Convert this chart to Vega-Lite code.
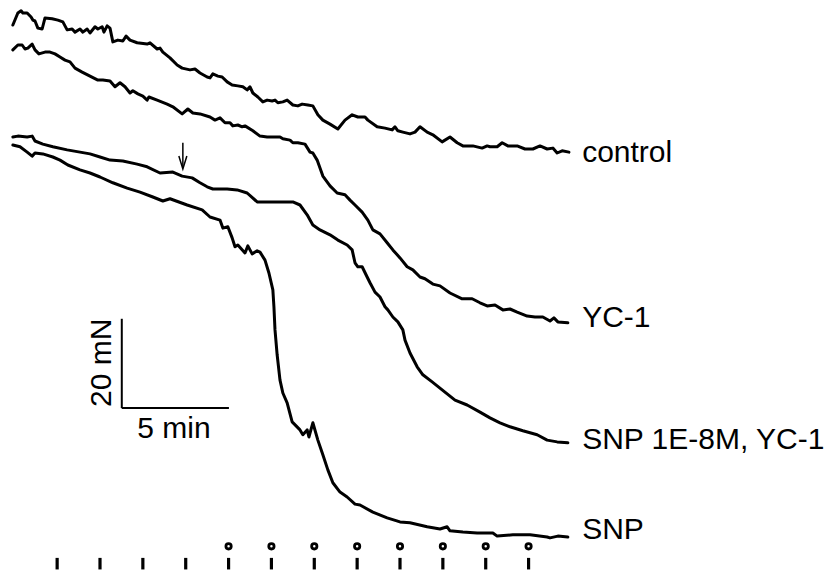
{
  "$schema": "https://vega.github.io/schema/vega-lite/v6.json",
  "width": 826,
  "height": 573,
  "autosize": {"type": "fit", "contains": "padding"},
  "padding": 0,
  "background": "white",
  "config": {"view": {"stroke": null}},
  "datasets": {
    "traces": [
      {"trace":"control","time":36,"tension":123.3},{"trace":"control","time":50,"tension":126.0},{"trace":"control","time":59,"tension":126.5},{"trace":"control","time":64,"tension":126.0},{"trace":"control","time":76,"tension":126.0},{"trace":"control","time":87,"tension":125.1},{"trace":"control","time":92,"tension":124.4},{"trace":"control","time":98,"tension":124.2},{"trace":"control","time":106,"tension":122.6},{"trace":"control","time":118,"tension":122.4},{"trace":"control","time":126,"tension":124.9},{"trace":"control","time":146,"tension":124.7},{"trace":"control","time":162,"tension":124.4},{"trace":"control","time":176,"tension":124.0},{"trace":"control","time":188,"tension":122.2},{"trace":"control","time":202,"tension":122.4},{"trace":"control","time":210,"tension":121.7},{"trace":"control","time":224,"tension":122.4},{"trace":"control","time":232,"tension":121.7},{"trace":"control","time":244,"tension":122.4},{"trace":"control","time":252,"tension":121.5},{"trace":"control","time":266,"tension":122.9},{"trace":"control","time":274,"tension":122.4},{"trace":"control","time":286,"tension":122.9},{"trace":"control","time":291,"tension":121.7},{"trace":"control","time":300,"tension":123.1},{"trace":"control","time":308,"tension":122.6},{"trace":"control","time":316,"tension":119.5},{"trace":"control","time":330,"tension":119.9},{"trace":"control","time":344,"tension":119.7},{"trace":"control","time":353,"tension":120.8},{"trace":"control","time":364,"tension":119.9},{"trace":"control","time":384,"tension":119.3},{"trace":"control","time":412,"tension":119.0},{"trace":"control","time":420,"tension":119.3},{"trace":"control","time":440,"tension":117.9},{"trace":"control","time":448,"tension":118.1},{"trace":"control","time":456,"tension":117.2},{"trace":"control","time":476,"tension":115.9},{"trace":"control","time":496,"tension":114.3},{"trace":"control","time":510,"tension":113.6},{"trace":"control","time":532,"tension":113.2},{"trace":"control","time":546,"tension":113.4},{"trace":"control","time":560,"tension":112.5},{"trace":"control","time":580,"tension":111.6},{"trace":"control","time":588,"tension":111.4},{"trace":"control","time":596,"tension":112.3},{"trace":"control","time":610,"tension":111.8},{"trace":"control","time":622,"tension":111.6},{"trace":"control","time":636,"tension":110.5},{"trace":"control","time":650,"tension":109.8},{"trace":"control","time":666,"tension":109.6},{"trace":"control","time":680,"tension":109.4},{"trace":"control","time":692,"tension":108.7},{"trace":"control","time":700,"tension":109.4},{"trace":"control","time":708,"tension":108.0},{"trace":"control","time":722,"tension":107.1},{"trace":"control","time":736,"tension":106.0},{"trace":"control","time":748,"tension":106.4},{"trace":"control","time":762,"tension":106.2},{"trace":"control","time":770,"tension":106.4},{"trace":"control","time":778,"tension":105.8},{"trace":"control","time":792,"tension":106.0},{"trace":"control","time":804,"tension":106.4},{"trace":"control","time":820,"tension":105.3},{"trace":"control","time":834,"tension":105.1},{"trace":"control","time":846,"tension":105.5},{"trace":"control","time":862,"tension":105.3},{"trace":"control","time":876,"tension":105.1},{"trace":"control","time":890,"tension":103.1},{"trace":"control","time":904,"tension":101.9},{"trace":"control","time":924,"tension":101.0},{"trace":"control","time":946,"tension":99.9},{"trace":"control","time":966,"tension":101.9},{"trace":"control","time":986,"tension":103.1},{"trace":"control","time":1002,"tension":102.6},{"trace":"control","time":1022,"tension":102.6},{"trace":"control","time":1030,"tension":101.9},{"trace":"control","time":1056,"tension":100.4},{"trace":"control","time":1078,"tension":100.1},{"trace":"control","time":1098,"tension":99.7},{"trace":"control","time":1106,"tension":100.4},{"trace":"control","time":1114,"tension":99.5},{"trace":"control","time":1128,"tension":99.2},{"trace":"control","time":1148,"tension":98.8},{"trace":"control","time":1162,"tension":99.2},{"trace":"control","time":1176,"tension":100.4},{"trace":"control","time":1196,"tension":99.2},{"trace":"control","time":1212,"tension":98.6},{"trace":"control","time":1238,"tension":97.0},{"trace":"control","time":1260,"tension":98.1},{"trace":"control","time":1280,"tension":96.8},{"trace":"control","time":1296,"tension":96.1},{"trace":"control","time":1324,"tension":96.1},{"trace":"control","time":1350,"tension":95.6},{"trace":"control","time":1364,"tension":96.1},{"trace":"control","time":1372,"tension":95.9},{"trace":"control","time":1392,"tension":95.9},{"trace":"control","time":1406,"tension":96.8},{"trace":"control","time":1422,"tension":96.1},{"trace":"control","time":1448,"tension":96.1},{"trace":"control","time":1470,"tension":95.4},{"trace":"control","time":1492,"tension":95.4},{"trace":"control","time":1512,"tension":96.1},{"trace":"control","time":1532,"tension":95.4},{"trace":"control","time":1548,"tension":95.6},{"trace":"control","time":1560,"tension":94.5},{"trace":"control","time":1574,"tension":95.0},{"trace":"control","time":1593,"tension":94.7},

      {"trace":"YC-1","time":36,"tension":117.7},{"trace":"YC-1","time":50,"tension":118.8},{"trace":"YC-1","time":62,"tension":118.8},{"trace":"YC-1","time":70,"tension":117.9},{"trace":"YC-1","time":78,"tension":118.1},{"trace":"YC-1","time":90,"tension":119.0},{"trace":"YC-1","time":98,"tension":117.7},{"trace":"YC-1","time":109,"tension":116.8},{"trace":"YC-1","time":126,"tension":117.2},{"trace":"YC-1","time":140,"tension":117.2},{"trace":"YC-1","time":154,"tension":116.8},{"trace":"YC-1","time":168,"tension":116.1},{"trace":"YC-1","time":182,"tension":115.4},{"trace":"YC-1","time":196,"tension":115.0},{"trace":"YC-1","time":210,"tension":113.6},{"trace":"YC-1","time":230,"tension":112.7},{"trace":"YC-1","time":252,"tension":111.8},{"trace":"YC-1","time":274,"tension":110.9},{"trace":"YC-1","time":288,"tension":110.9},{"trace":"YC-1","time":308,"tension":110.7},{"trace":"YC-1","time":322,"tension":109.4},{"trace":"YC-1","time":336,"tension":110.3},{"trace":"YC-1","time":350,"tension":109.4},{"trace":"YC-1","time":364,"tension":108.0},{"trace":"YC-1","time":372,"tension":108.5},{"trace":"YC-1","time":386,"tension":107.8},{"trace":"YC-1","time":400,"tension":107.3},{"trace":"YC-1","time":412,"tension":106.4},{"trace":"YC-1","time":417,"tension":107.1},{"trace":"YC-1","time":440,"tension":106.4},{"trace":"YC-1","time":468,"tension":105.5},{"trace":"YC-1","time":484,"tension":104.9},{"trace":"YC-1","time":510,"tension":103.3},{"trace":"YC-1","time":526,"tension":104.4},{"trace":"YC-1","time":540,"tension":103.5},{"trace":"YC-1","time":560,"tension":103.3},{"trace":"YC-1","time":588,"tension":102.6},{"trace":"YC-1","time":602,"tension":101.9},{"trace":"YC-1","time":616,"tension":102.4},{"trace":"YC-1","time":630,"tension":101.3},{"trace":"YC-1","time":644,"tension":101.3},{"trace":"YC-1","time":652,"tension":100.6},{"trace":"YC-1","time":666,"tension":100.8},{"trace":"YC-1","time":678,"tension":100.4},{"trace":"YC-1","time":686,"tension":100.6},{"trace":"YC-1","time":708,"tension":99.5},{"trace":"YC-1","time":728,"tension":98.3},{"trace":"YC-1","time":748,"tension":98.1},{"trace":"YC-1","time":762,"tension":98.1},{"trace":"YC-1","time":784,"tension":98.1},{"trace":"YC-1","time":792,"tension":97.7},{"trace":"YC-1","time":812,"tension":97.4},{"trace":"YC-1","time":820,"tension":96.8},{"trace":"YC-1","time":834,"tension":96.8},{"trace":"YC-1","time":854,"tension":96.5},{"trace":"YC-1","time":868,"tension":94.7},{"trace":"YC-1","time":876,"tension":94.5},{"trace":"YC-1","time":888,"tension":92.9},{"trace":"YC-1","time":896,"tension":91.1},{"trace":"YC-1","time":904,"tension":89.3},{"trace":"YC-1","time":924,"tension":87.1},{"trace":"YC-1","time":944,"tension":85.5},{"trace":"YC-1","time":966,"tension":85.1},{"trace":"YC-1","time":980,"tension":83.9},{"trace":"YC-1","time":994,"tension":82.8},{"trace":"YC-1","time":1014,"tension":81.2},{"trace":"YC-1","time":1030,"tension":79.4},{"trace":"YC-1","time":1044,"tension":77.2},{"trace":"YC-1","time":1064,"tension":76.3},{"trace":"YC-1","time":1084,"tension":74.3},{"trace":"YC-1","time":1100,"tension":72.7},{"trace":"YC-1","time":1120,"tension":70.9},{"trace":"YC-1","time":1140,"tension":68.9},{"trace":"YC-1","time":1156,"tension":68.2},{"trace":"YC-1","time":1176,"tension":66.6},{"trace":"YC-1","time":1190,"tension":66.2},{"trace":"YC-1","time":1212,"tension":65.0},{"trace":"YC-1","time":1232,"tension":64.6},{"trace":"YC-1","time":1260,"tension":63.0},{"trace":"YC-1","time":1294,"tension":61.7},{"trace":"YC-1","time":1322,"tension":61.7},{"trace":"YC-1","time":1344,"tension":60.8},{"trace":"YC-1","time":1364,"tension":60.1},{"trace":"YC-1","time":1386,"tension":60.3},{"trace":"YC-1","time":1408,"tension":59.2},{"trace":"YC-1","time":1428,"tension":59.4},{"trace":"YC-1","time":1448,"tension":58.7},{"trace":"YC-1","time":1476,"tension":57.8},{"trace":"YC-1","time":1498,"tension":57.6},{"trace":"YC-1","time":1520,"tension":57.6},{"trace":"YC-1","time":1540,"tension":56.7},{"trace":"YC-1","time":1551,"tension":57.4},{"trace":"YC-1","time":1562,"tension":56.5},{"trace":"YC-1","time":1590,"tension":56.3},

      {"trace":"SNP 1E-8M, YC-1","time":36,"tension":98.1},{"trace":"SNP 1E-8M, YC-1","time":50,"tension":98.3},{"trace":"SNP 1E-8M, YC-1","time":76,"tension":98.1},{"trace":"SNP 1E-8M, YC-1","time":90,"tension":98.3},{"trace":"SNP 1E-8M, YC-1","time":98,"tension":97.2},{"trace":"SNP 1E-8M, YC-1","time":120,"tension":96.5},{"trace":"SNP 1E-8M, YC-1","time":148,"tension":95.9},{"trace":"SNP 1E-8M, YC-1","time":188,"tension":95.2},{"trace":"SNP 1E-8M, YC-1","time":224,"tension":94.7},{"trace":"SNP 1E-8M, YC-1","time":252,"tension":94.3},{"trace":"SNP 1E-8M, YC-1","time":280,"tension":93.6},{"trace":"SNP 1E-8M, YC-1","time":308,"tension":92.9},{"trace":"SNP 1E-8M, YC-1","time":344,"tension":92.7},{"trace":"SNP 1E-8M, YC-1","time":384,"tension":92.0},{"trace":"SNP 1E-8M, YC-1","time":412,"tension":91.4},{"trace":"SNP 1E-8M, YC-1","time":448,"tension":90.0},{"trace":"SNP 1E-8M, YC-1","time":484,"tension":90.2},{"trace":"SNP 1E-8M, YC-1","time":510,"tension":89.3},{"trace":"SNP 1E-8M, YC-1","time":538,"tension":88.9},{"trace":"SNP 1E-8M, YC-1","time":560,"tension":87.8},{"trace":"SNP 1E-8M, YC-1","time":580,"tension":86.9},{"trace":"SNP 1E-8M, YC-1","time":596,"tension":86.4},{"trace":"SNP 1E-8M, YC-1","time":636,"tension":86.4},{"trace":"SNP 1E-8M, YC-1","time":664,"tension":86.2},{"trace":"SNP 1E-8M, YC-1","time":692,"tension":85.5},{"trace":"SNP 1E-8M, YC-1","time":720,"tension":83.5},{"trace":"SNP 1E-8M, YC-1","time":748,"tension":83.5},{"trace":"SNP 1E-8M, YC-1","time":784,"tension":83.5},{"trace":"SNP 1E-8M, YC-1","time":820,"tension":83.5},{"trace":"SNP 1E-8M, YC-1","time":840,"tension":82.8},{"trace":"SNP 1E-8M, YC-1","time":860,"tension":80.6},{"trace":"SNP 1E-8M, YC-1","time":876,"tension":78.3},{"trace":"SNP 1E-8M, YC-1","time":896,"tension":77.2},{"trace":"SNP 1E-8M, YC-1","time":924,"tension":76.1},{"trace":"SNP 1E-8M, YC-1","time":946,"tension":74.9},{"trace":"SNP 1E-8M, YC-1","time":972,"tension":73.8},{"trace":"SNP 1E-8M, YC-1","time":986,"tension":72.7},{"trace":"SNP 1E-8M, YC-1","time":994,"tension":69.8},{"trace":"SNP 1E-8M, YC-1","time":1002,"tension":68.9},{"trace":"SNP 1E-8M, YC-1","time":1014,"tension":68.9},{"trace":"SNP 1E-8M, YC-1","time":1028,"tension":66.6},{"trace":"SNP 1E-8M, YC-1","time":1036,"tension":65.3},{"trace":"SNP 1E-8M, YC-1","time":1050,"tension":63.2},{"trace":"SNP 1E-8M, YC-1","time":1064,"tension":62.1},{"trace":"SNP 1E-8M, YC-1","time":1078,"tension":59.9},{"trace":"SNP 1E-8M, YC-1","time":1086,"tension":59.2},{"trace":"SNP 1E-8M, YC-1","time":1100,"tension":57.6},{"trace":"SNP 1E-8M, YC-1","time":1114,"tension":56.5},{"trace":"SNP 1E-8M, YC-1","time":1128,"tension":54.7},{"trace":"SNP 1E-8M, YC-1","time":1134,"tension":52.4},{"trace":"SNP 1E-8M, YC-1","time":1148,"tension":49.5},{"trace":"SNP 1E-8M, YC-1","time":1168,"tension":46.4},{"trace":"SNP 1E-8M, YC-1","time":1184,"tension":44.6},{"trace":"SNP 1E-8M, YC-1","time":1210,"tension":43.0},{"trace":"SNP 1E-8M, YC-1","time":1238,"tension":41.2},{"trace":"SNP 1E-8M, YC-1","time":1274,"tension":38.9},{"trace":"SNP 1E-8M, YC-1","time":1308,"tension":37.8},{"trace":"SNP 1E-8M, YC-1","time":1344,"tension":36.2},{"trace":"SNP 1E-8M, YC-1","time":1372,"tension":34.9},{"trace":"SNP 1E-8M, YC-1","time":1400,"tension":33.8},{"trace":"SNP 1E-8M, YC-1","time":1428,"tension":32.9},{"trace":"SNP 1E-8M, YC-1","time":1464,"tension":32.0},{"trace":"SNP 1E-8M, YC-1","time":1504,"tension":31.1},{"trace":"SNP 1E-8M, YC-1","time":1532,"tension":29.9},{"trace":"SNP 1E-8M, YC-1","time":1560,"tension":29.5},{"trace":"SNP 1E-8M, YC-1","time":1590,"tension":29.3},

      {"trace":"SNP","time":36,"tension":96.3},{"trace":"SNP","time":56,"tension":95.9},{"trace":"SNP","time":76,"tension":94.7},{"trace":"SNP","time":90,"tension":93.8},{"trace":"SNP","time":98,"tension":94.5},{"trace":"SNP","time":120,"tension":94.3},{"trace":"SNP","time":148,"tension":93.6},{"trace":"SNP","time":168,"tension":92.9},{"trace":"SNP","time":190,"tension":91.8},{"trace":"SNP","time":224,"tension":90.7},{"trace":"SNP","time":252,"tension":90.0},{"trace":"SNP","time":280,"tension":89.1},{"trace":"SNP","time":316,"tension":87.8},{"trace":"SNP","time":356,"tension":86.6},{"trace":"SNP","time":392,"tension":85.7},{"trace":"SNP","time":428,"tension":84.6},{"trace":"SNP","time":456,"tension":83.7},{"trace":"SNP","time":476,"tension":84.2},{"trace":"SNP","time":524,"tension":82.8},{"trace":"SNP","time":566,"tension":81.7},{"trace":"SNP","time":588,"tension":80.1},{"trace":"SNP","time":616,"tension":79.4},{"trace":"SNP","time":624,"tension":77.6},{"trace":"SNP","time":638,"tension":77.9},{"trace":"SNP","time":650,"tension":75.4},{"trace":"SNP","time":658,"tension":73.4},{"trace":"SNP","time":666,"tension":73.8},{"trace":"SNP","time":686,"tension":72.0},{"trace":"SNP","time":694,"tension":73.6},{"trace":"SNP","time":706,"tension":71.8},{"trace":"SNP","time":720,"tension":72.5},{"trace":"SNP","time":728,"tension":72.2},{"trace":"SNP","time":742,"tension":70.4},{"trace":"SNP","time":753,"tension":67.5},{"trace":"SNP","time":764,"tension":63.7},{"trace":"SNP","time":767,"tension":59.9},{"trace":"SNP","time":770,"tension":54.7},{"trace":"SNP","time":776,"tension":49.1},{"trace":"SNP","time":784,"tension":43.4},{"trace":"SNP","time":792,"tension":40.5},{"trace":"SNP","time":804,"tension":38.3},{"trace":"SNP","time":818,"tension":34.0},{"trace":"SNP","time":840,"tension":32.2},{"trace":"SNP","time":848,"tension":31.1},{"trace":"SNP","time":860,"tension":32.2},{"trace":"SNP","time":865,"tension":30.6},{"trace":"SNP","time":876,"tension":33.8},{"trace":"SNP","time":890,"tension":29.9},{"trace":"SNP","time":904,"tension":26.6},{"trace":"SNP","time":918,"tension":23.2},{"trace":"SNP","time":932,"tension":20.3},{"trace":"SNP","time":952,"tension":18.2},{"trace":"SNP","time":972,"tension":17.1},{"trace":"SNP","time":994,"tension":15.5},{"trace":"SNP","time":1008,"tension":15.3},{"trace":"SNP","time":1044,"tension":13.7},{"trace":"SNP","time":1084,"tension":12.4},{"trace":"SNP","time":1120,"tension":11.5},{"trace":"SNP","time":1148,"tension":11.3},{"trace":"SNP","time":1196,"tension":10.4},{"trace":"SNP","time":1232,"tension":9.9},{"trace":"SNP","time":1252,"tension":10.4},{"trace":"SNP","time":1260,"tension":9.5},{"trace":"SNP","time":1296,"tension":9.2},{"trace":"SNP","time":1336,"tension":9.0},{"trace":"SNP","time":1380,"tension":9.0},{"trace":"SNP","time":1392,"tension":8.3},{"trace":"SNP","time":1436,"tension":8.6},{"trace":"SNP","time":1484,"tension":8.6},{"trace":"SNP","time":1532,"tension":8.1},{"trace":"SNP","time":1540,"tension":7.9},{"trace":"SNP","time":1562,"tension":8.3},{"trace":"SNP","time":1590,"tension":8.1}
    ],
    "labels": [
      {"label":"control","time":1630,"tension":94.5},
      {"label":"YC-1","time":1630,"tension":57.4},
      {"label":"SNP 1E-8M, YC-1","time":1630,"tension":29.9},
      {"label":"SNP","time":1630,"tension":9.7}
    ],
    "ticks": [
      {"time":160,"dot":false},{"time":280,"dot":false},{"time":400,"dot":false},{"time":520,"dot":false},
      {"time":640,"dot":true},{"time":760,"dot":true},{"time":880,"dot":true},{"time":1000,"dot":true},
      {"time":1120,"dot":true},{"time":1240,"dot":true},{"time":1360,"dot":true},{"time":1480,"dot":true}
    ]
  },
  "layer": [
    {
      "data": {"name": "traces"},
      "mark": {"type": "line", "stroke": "black", "strokeWidth": 3, "strokeJoin": "round", "strokeCap": "round"},
      "encoding": {
        "x": {"field": "time", "type": "quantitative", "scale": {"domain": [0, 2312.8], "nice": false, "zero": false}, "axis": null},
        "y": {"field": "tension", "type": "quantitative", "scale": {"domain": [0, 128.925], "nice": false, "zero": false}, "axis": null},
        "detail": {"field": "trace"},
        "order": {"field": "time"}
      }
    },
    {
      "data": {"name": "labels"},
      "mark": {"type": "text", "align": "left", "baseline": "middle", "font": "Liberation Sans", "fontSize": 30, "color": "black"},
      "encoding": {
        "x": {"field": "time", "type": "quantitative"},
        "y": {"field": "tension", "type": "quantitative"},
        "text": {"field": "label"}
      }
    },
    {
      "data": {"values": [{"time": 341, "t2": 341, "lo": 37.1, "hi": 57.2}, {"time": 341, "t2": 641, "lo": 37.1, "hi": 37.1}]},
      "mark": {"type": "rule", "stroke": "black", "strokeWidth": 2},
      "encoding": {
        "x": {"field": "time", "type": "quantitative"},
        "x2": {"field": "t2"},
        "y": {"field": "lo", "type": "quantitative"},
        "y2": {"field": "hi"}
      }
    },
    {
      "data": {"values": [{"time": 286, "tension": 47.3, "label": "20 mN"}]},
      "mark": {"type": "text", "angle": 270, "align": "center", "baseline": "middle", "font": "Liberation Sans", "fontSize": 30, "color": "black"},
      "encoding": {
        "x": {"field": "time", "type": "quantitative"},
        "y": {"field": "tension", "type": "quantitative"},
        "text": {"field": "label"}
      }
    },
    {
      "data": {"values": [{"time": 487, "tension": 32.4, "label": "5 min"}]},
      "mark": {"type": "text", "align": "center", "baseline": "middle", "font": "Liberation Sans", "fontSize": 30, "color": "black"},
      "encoding": {
        "x": {"field": "time", "type": "quantitative"},
        "y": {"field": "tension", "type": "quantitative"},
        "text": {"field": "label"}
      }
    },
    {
      "data": {"values": [{"time": 512, "lo": 91.1, "hi": 96.8}]},
      "mark": {"type": "rule", "stroke": "black", "strokeWidth": 1.5},
      "encoding": {
        "x": {"field": "time", "type": "quantitative"},
        "y": {"field": "lo", "type": "quantitative"},
        "y2": {"field": "hi"}
      }
    },
    {
      "data": {"values": [{"time": 512, "tension": 90.9}]},
      "mark": {"type": "point", "shape": "M-0.8,-2.6L0,0L0.8,-2.6", "size": 100, "filled": false, "stroke": "black", "strokeWidth": 1.5, "opacity": 1},
      "encoding": {
        "x": {"field": "time", "type": "quantitative"},
        "y": {"field": "tension", "type": "quantitative"}
      }
    },
    {
      "data": {"name": "ticks"},
      "mark": {"type": "rule", "stroke": "black", "strokeWidth": 3.2},
      "encoding": {
        "x": {"field": "time", "type": "quantitative"},
        "y": {"datum": 0.8, "type": "quantitative"},
        "y2": {"datum": 3.4}
      }
    },
    {
      "data": {"name": "ticks"},
      "transform": [{"filter": "datum.dot"}],
      "mark": {"type": "point", "shape": "circle", "size": 28, "filled": true, "fill": "white", "stroke": "black", "strokeWidth": 2.8, "opacity": 1},
      "encoding": {
        "x": {"field": "time", "type": "quantitative"},
        "y": {"datum": 6.0, "type": "quantitative"}
      }
    }
  ]
}
